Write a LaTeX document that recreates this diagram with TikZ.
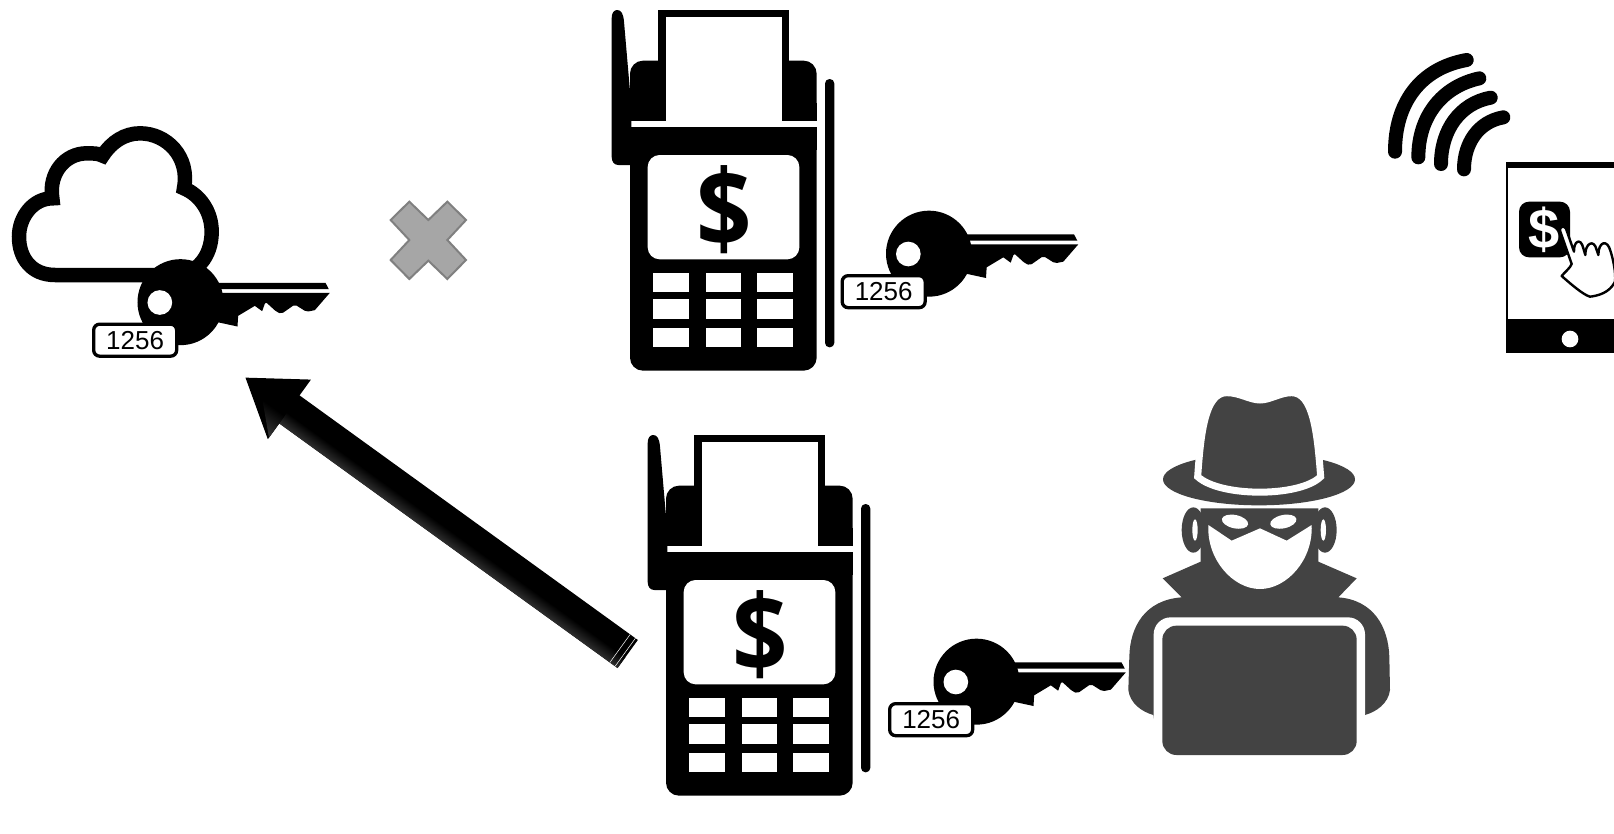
\documentclass[tikz,border=0pt]{standalone}
\usepackage{graphicx}
\usepackage{fontspec}
\setmainfont{Liberation Sans}
\setsansfont{Open Sans}
\usetikzlibrary{arrows.meta}
\definecolor{spy}{HTML}{434343}
\tikzset{
  zoomed/.style={scale=0.33333},
  keytag/.style={draw=black,fill=white,line width=3.3pt,rounded corners=6pt,minimum width=83pt,minimum height=32pt,inner sep=0pt,font=\fontsize{26}{26}\selectfont},
  dollar/.style={inner sep=0pt,font=\sffamily\bfseries\fontsize{108}{108}\selectfont},
  wave/.style={line width=14pt,line cap=round},
  pics/terminal/.style={code={
    \begin{scope}[zoomed]
      \fill (65,55) .. controls (65,38) and (72,30) .. (82,30) .. controls (94,30) and (100,42) .. (102,65) -- (124,320) -- (124,495) -- (85,495) .. controls (72,495) and (65,485) .. (65,470) -- cycle;
      \fill[rounded corners=13pt] (120,362) -- (120,182) -- (680,182) -- (680,362) -- cycle;
      \fill (120,310) rectangle (680,362);
      \fill[rounded corners=13pt] (120,400) -- (120,1112) -- (680,1112) -- (680,400) -- cycle;
      \fill (120,382) rectangle (680,450);
      \fill (205,30) rectangle (597,200);
      \fill[white] (227,52) rectangle (575,362);
      \fill[white,rounded corners=12pt] (173,465) rectangle (628,778);
      \node[dollar] (-sign) at (402,630) {\scalebox{0.9}[1]{\$}};
      \foreach \xa/\xb in {190/298,348/452,502/608}
        \foreach \ya/\yb in {818/877,898/958,983/1042}
          \fill[white] (\xa,\ya) rectangle (\xb,\yb);
      \fill[rounded corners=4.5pt] (705,237) rectangle (733,1042);
    \end{scope}
  }},
  pics/keyfob/.style={code={
    \begin{scope}[zoomed]
      \fill (1017,761) circle (129);
      \fill (1100,703) -- (1452,703) -- (1462,722) -- (1100,722) -- cycle;
      \fill (1100,733) -- (1465,733) -- (1420,785) [rounded corners=2pt] -- (1395,790) -- (1360,768) -- (1320,796) -- (1305,790) -- (1272,760) [sharp corners] -- (1262,788) -- (1240,772) -- (1190,802) -- (1188,834) -- (1100,815) -- cycle;
      \fill[white] (955,762) circle (37);
      \node[keytag] (-tag) at (881,875) {1256};
    \end{scope}
  }}
}
\begin{document}
\begin{tikzpicture}[x=1pt,y=-1pt]
\useasboundingbox (0,0) rectangle (1614,833);
\fill[white] (0,0) rectangle (1614,833);

% cloud
\begin{scope}[shift={(0,110)},zoomed]
  \draw[line width=14.5pt,line join=miter,fill=white]
    (165,495) .. controls (95,495) and (57,445) .. (57,380)
    .. controls (57,320) and (100,265) .. (157,265)
    .. controls (145,190) and (195,130) .. (260,130)
    .. controls (280,130) and (295,130) .. (308,137)
    .. controls (335,95) and (375,70) .. (420,70)
    .. controls (500,70) and (570,140) .. (552,235)
    .. controls (600,255) and (635,305) .. (635,365)
    .. controls (635,440) and (590,495) .. (520,495) -- cycle;
\end{scope}
\pic (keyA) at (-158.5,48.5) {keyfob};

% cross
\begin{scope}[shift={(0,110)},zoomed]
  \draw[draw=black!50,fill=black!35,line width=2pt,line join=miter]
    (1228,275) -- (1285,330) -- (1342,275) -- (1398,330) -- (1342,390) -- (1398,450) -- (1342,507) -- (1285,452) -- (1228,507) -- (1172,450) -- (1228,390) -- (1172,330) -- cycle;
\end{scope}

% terminals and keys
\pic (termA) at (590,0) {terminal};
\pic (keyB) at (590,0) {keyfob};
\pic (termB) at (626,425) {terminal};
\pic (keyC) at (637.5,428) {keyfob};

% big arrow
\coordinate (arrowtail) at (627.7,654);
\coordinate (arrowtip) at (245,377.3);
\draw[line width=34.6pt,-{Triangle[length=54.8pt,width=69.6pt]}] (arrowtail) -- (arrowtip);
\begin{scope}[transform canvas={shift={(arrowtail)},rotate=144.13}]
  \shade[top color=black!82,bottom color=black] (0,-17.3) rectangle (417.5,-4);
  \shade[top color=black!78,bottom color=black] (417.5,-34.8) -- (417.5,-8) -- (445,-8) -- cycle;
  \draw[white,line width=0.5pt] (3,-17.3) -- (3,17.3);
  \draw[white,line width=0.5pt] (9.5,-17.3) -- (9.5,17.3);
\end{scope}

% spy
\begin{scope}[shift={(1110,380)},zoomed]
  \fill[spy] (447,298) ellipse (288 and 78);
  \draw[white,line width=7pt,fill=spy] (263,290) .. controls (272,160) and (285,38) .. (350,38) .. controls (390,38) and (420,60) .. (450,60) .. controls (480,60) and (510,38) .. (545,38) .. controls (610,38) and (622,160) .. (632,290) .. controls (570,352) and (330,352) .. (263,290) -- cycle;
  % ears
  \fill[spy] (250,450) ellipse (35 and 68);
  \fill[spy] (645,450) ellipse (35 and 68);
  \fill[white] (255,450) ellipse (8 and 32);
  \fill[white] (640,450) ellipse (8 and 32);
  % shoulders and collar
  \fill[spy] (272,385) -- (625,385) -- (625,545) -- (740,595) -- (685,652)
     .. controls (790,660) and (835,740) .. (838,830) -- (840,930) .. controls (835,970) and (800,995) .. (765,1005) -- (750,1100) -- (145,1100) -- (130,1005)
     .. controls (95,995) and (60,970) .. (55,930) -- (58,830) .. controls (60,740) and (105,660) .. (215,652) -- (158,595) -- (272,545) -- cycle;
  % white below shoulders, laptop
  \fill[white,rounded corners=17pt] (131,712) rectangle (765,1135);
  \fill[spy,rounded corners=14pt] (157,737) rectangle (740,1125);
  % face and eyes
  \fill[white] (295,435) -- (365,482) -- (450,445) -- (530,482) -- (605,435)
     .. controls (610,540) and (530,627) .. (450,627) .. controls (370,627) and (290,540) .. (295,435) -- cycle;
  \fill[white,rotate around={-12:(375,425)}] (375,425) ellipse (40 and 20);
  \fill[white,rotate around={12:(520,425)}] (520,425) ellipse (40 and 20);
\end{scope}

% tablet
\begin{scope}[shift={(1370,40)},zoomed]
  \draw[wave] (75,335) .. controls (75,190) and (150,85) .. (290,60);
  \draw[wave] (145,352) .. controls (145,230) and (215,140) .. (328,115);
  \draw[wave] (213,372) .. controls (213,270) and (270,190) .. (362,173);
  \draw[wave] (282,388) .. controls (282,310) and (325,245) .. (400,232);
  \fill (407,365) rectangle (732,940);
  \fill[white] (415,385) rectangle (732,838);
  \fill[white] (600,897) circle (25);
  \fill[rounded corners=10pt] (447,485) rectangle (600,652);
  \node[inner sep=0pt,text=white,font=\bfseries\fontsize{56}{56}\selectfont] (paysign) at (522,568) {\$};
  \draw[fill=white,line width=2.4pt,line join=round]
    (570,572) .. controls (568,560) and (582,555) .. (588,566) -- (612,635)
    .. controls (610,605) and (632,590) .. (640,625) -- (646,645)
    .. controls (645,610) and (672,595) .. (680,630) -- (685,645)
    .. controls (685,605) and (712,595) .. (722,635)
    .. controls (730,660) and (738,700) .. (735,725)
    .. controls (725,745) and (705,765) .. (660,770)
    .. controls (640,765) and (600,730) .. (575,708)
    .. controls (585,695) and (600,685) .. (605,672) -- cycle;
\end{scope}
\end{tikzpicture}
\end{document}
